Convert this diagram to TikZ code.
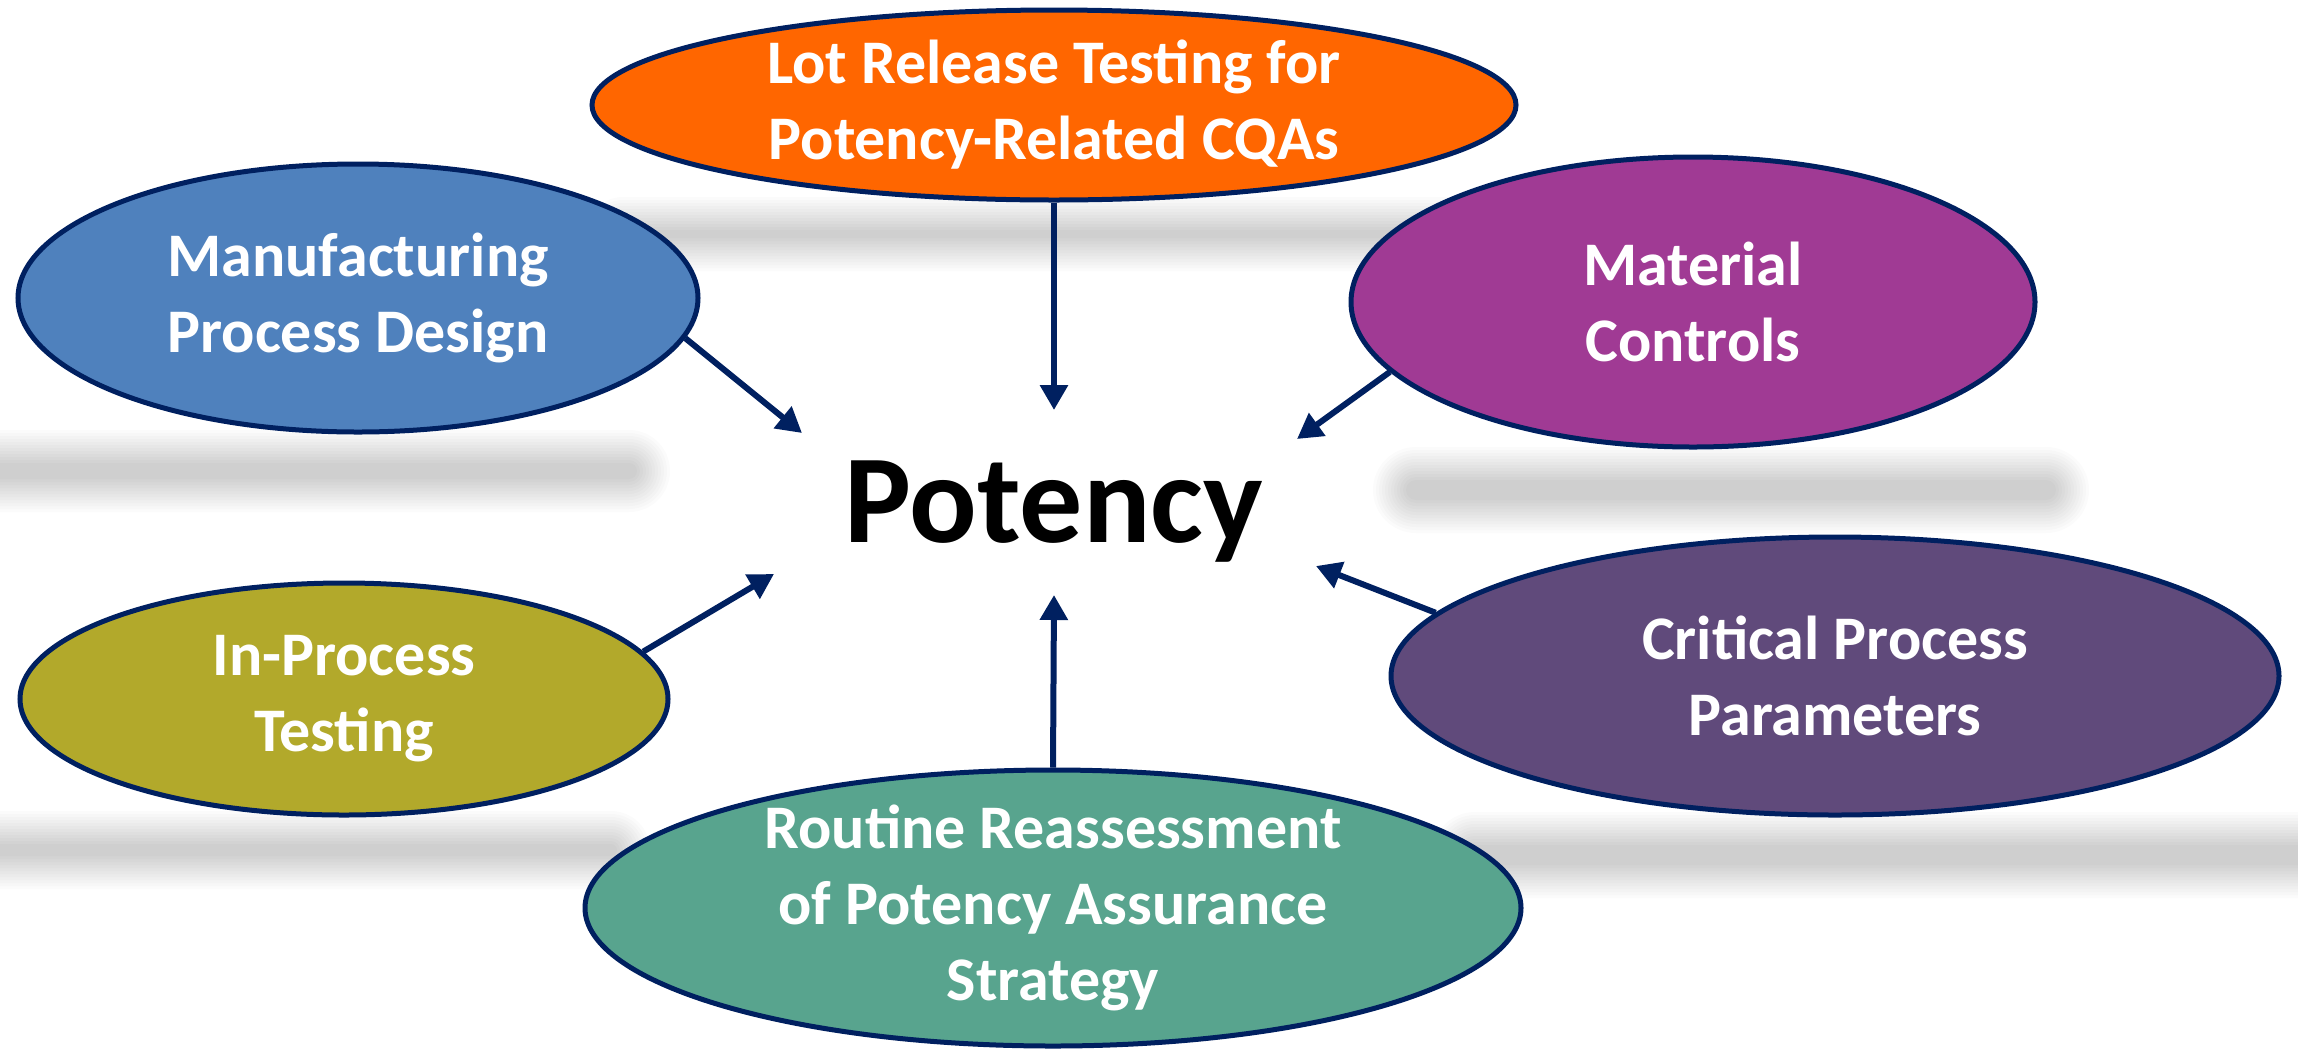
\documentclass[tikz,border=0pt]{standalone}
\usepackage{fontspec}
\setmainfont{Carlito}
\usetikzlibrary{shapes.geometric,arrows.meta}
\definecolor{navy}{HTML}{002060}
\definecolor{cOrange}{HTML}{FF6600}
\definecolor{cBlue}{HTML}{4F81BD}
\definecolor{cMag}{HTML}{A03A94}
\definecolor{cOlive}{HTML}{B2A92B}
\definecolor{cPurple}{HTML}{604A7B}
\definecolor{cTeal}{HTML}{58A48E}
\newcommand\softsh[4]{%
  \foreach \s in {-15,-12,...,18}{%
    \fill[black,opacity=0.017,rounded corners={#4+(\s)}] ({#1-#3-(\s)},{#2-#4-(\s)}) rectangle ({#1+#3+(\s)},{#2+#4+(\s)});
  }}
\begin{document}
\begin{tikzpicture}[x=1pt,y=-1pt,
  bubble/.style={ellipse, draw=navy, line width=5pt, inner sep=0pt},
  bubtext/.style={text=white, font=\fontsize{62}{76}\selectfont\bfseries, align=center},
  conn/.style={draw=navy, line width=6pt, -{Triangle[length=25pt,width=27pt]}}]
\useasboundingbox (0,0) rectangle (2298,1053);
\fill[white] (0,0) rectangle (2298,1053);
\begin{scope}
\clip (0,0) rectangle (2298,1053);
\softsh{1054}{234}{450}{19}
\softsh{300}{471}{352}{23}
\softsh{1731}{490}{340}{25}
\softsh{290}{850}{342}{21}
\softsh{1900}{855}{450}{25}
\end{scope}

\node[bubble, fill=cOrange, minimum width=924pt, minimum height=190pt,
  label={[bubtext]center:{Lot Release Testing for\\Potency-Related CQAs}}] (lot) at (1054,105) {};
\node[bubble, fill=cBlue, minimum width=680pt, minimum height=268pt,
  label={[bubtext]center:{Manufacturing\\Process Design}}] (mfg) at (358,298) {};
\node[bubble, fill=cMag, minimum width=684pt, minimum height=290pt,
  label={[bubtext]center:{Material\\Controls}}] (mat) at (1693,302) {};
\node[bubble, fill=cOlive, minimum width=648pt, minimum height=232pt,
  label={[bubtext]center:{In-Process\\Testing}}] (inp) at (344,699) {};
\node[bubble, fill=cPurple, minimum width=888pt, minimum height=278pt,
  label={[bubtext]center:{Critical Process\\Parameters}}] (cpp) at (1835,676) {};
\node[bubble, fill=cTeal, minimum width=936pt, minimum height=276pt,
  label={[bubtext]center:{Routine Reassessment\\of Potency Assurance\\Strategy}}] (rtn) at (1053,908) {};

\node[font=\fontsize{126}{150}\selectfont\bfseries, anchor=base, inner sep=0pt] (pot) at (1054,542) {Potency};

\coordinate (tLot) at (1054,410);
\coordinate (tRtn) at (1054,595);
\coordinate (tMfg) at (802,433);
\coordinate (tMat) at (1297,439);
\coordinate (tInp) at (774,574);
\coordinate (tCpp) at (1316,566);

\draw[conn] (lot.south) -- (tLot);
\draw[conn] (rtn.north) -- (tRtn);
\draw[conn] (mfg.-7.3) -- (tMfg);
\draw[conn] (mat.-167) -- (tMat);
\draw[conn] (inp.9.4) -- (tInp);
\draw[conn] (cpp.171.7) -- (tCpp);
\end{tikzpicture}
\end{document}
